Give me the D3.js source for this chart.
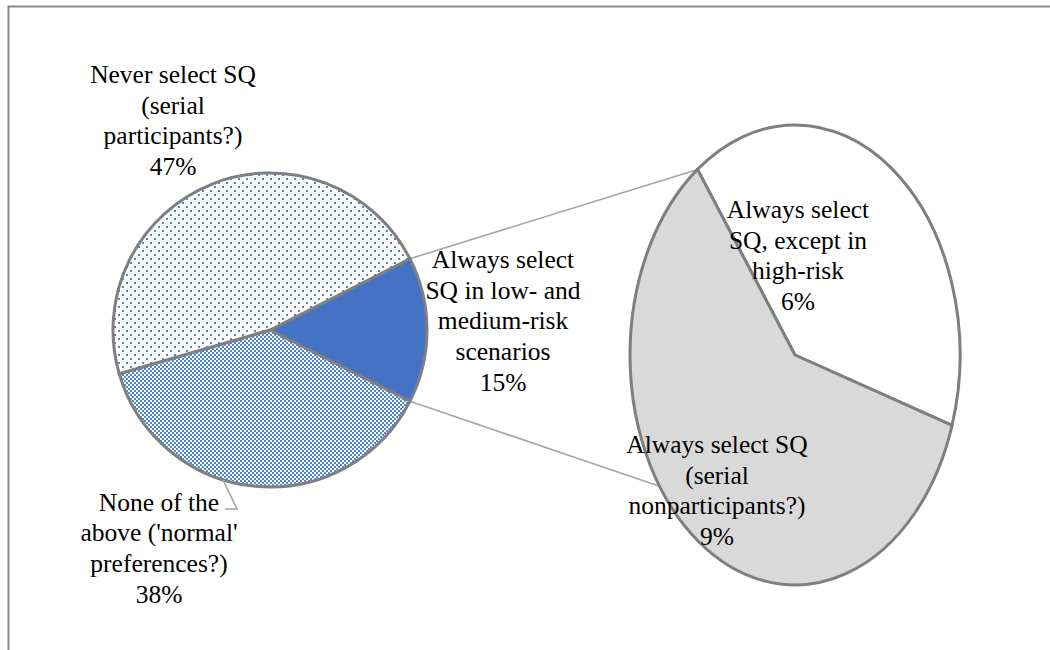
<!DOCTYPE html>
<html>
<head>
<meta charset="utf-8">
<script src="https://cdn.jsdelivr.net/npm/d3@7"></script>
<style>
  body { margin: 0; background: #fff; }
  svg { display: block; }
  text { font-family: "Liberation Serif", "Times New Roman", serif; fill: #000; }
</style>
</head>
<body>
<svg id="chart" width="1050" height="650"></svg>
<script>
// ---- data ----
const mainCategories = [
  "Always select SQ in low- and medium-risk scenarios",
  "None of the above ('normal' preferences?)",
  "Never select SQ (serial participants?)"
];
const mainValues = [15, 38, 47];
const mainLabelLines = [
  ["Always select", "SQ in low- and", "medium-risk", "scenarios"],
  ["None of the", "above ('normal'", "preferences?)"],
  ["Never select SQ", "(serial", "participants?)"]
];
const subCategories = [
  "Always select SQ, except in high-risk",
  "Always select SQ (serial nonparticipants?)"
];
const subValues = [6, 9];
const subLabelLines = [
  ["Always select", "SQ, except in", "high-risk"],
  ["Always select SQ", "(serial", "nonparticipants?)"]
];

// ---- layout ----
const W = 1050, H = 650;
const deg = Math.PI / 180;
const main = { cx: 270, cy: 330, r: 157 };
const sub = { cx: 795, cy: 355, rx: 165, ry: 230, start: -36.2 * deg, lowerLink: 235.2 * deg };
const fontSize = 25.5, lineGap = 30.7;
const mainLabelPos = [
  { x: 503, y: 268 },   // first baseline of each label
  { x: 159, y: 510.5 },
  { x: 173, y: 83 }
];
const subLabelPos = [
  { x: 798, y: 218 },
  { x: 717, y: 453 }
];
const outline = "#7f7f7f", linkColor = "#a5a5a5", patternBlue = "#4a8ad4";

const svg = d3.select("#chart");
const defs = svg.append("defs");

// dotted fill
const dots = defs.append("pattern").attr("id", "dots")
  .attr("patternUnits", "userSpaceOnUse").attr("width", 8).attr("height", 8);
dots.append("rect").attr("width", 8).attr("height", 8).attr("fill", "#fff");
dots.append("rect").attr("x", 0).attr("y", 0).attr("width", 2).attr("height", 2).attr("fill", patternBlue);
dots.append("rect").attr("x", 4).attr("y", 4).attr("width", 2).attr("height", 2).attr("fill", patternBlue);

// checkerboard fill
const checks = defs.append("pattern").attr("id", "checks")
  .attr("patternUnits", "userSpaceOnUse").attr("width", 4).attr("height", 4);
checks.append("rect").attr("width", 4).attr("height", 4).attr("fill", "#fff");
checks.append("rect").attr("x", 0).attr("y", 0).attr("width", 2).attr("height", 2).attr("fill", patternBlue);
checks.append("rect").attr("x", 2).attr("y", 2).attr("width", 2).attr("height", 2).attr("fill", patternBlue);

const mainFills = ["#4472c4", "url(#checks)", "url(#dots)"];
const subFills = ["#ffffff", "#d9d9d9"];

// chart area frame (left and top edges visible)
svg.append("path")
  .attr("d", `M8.5,${H} V6.5 H${W}`)
  .attr("fill", "none").attr("stroke", "#898989").attr("stroke-width", 2);

// ---- main pie: the first slice is centred on 3 o'clock ----
const total = d3.sum(mainValues);
const firstSpan = mainValues[0] / total * 2 * Math.PI;
const mainStart = Math.PI / 2 - firstSpan / 2;
const mainPie = d3.pie().sort(null)
  .startAngle(mainStart).endAngle(mainStart + 2 * Math.PI);
const mainArcs = mainPie(mainValues);
const mainArc = d3.arc().innerRadius(0).outerRadius(main.r);

// ---- secondary pie (breakdown of the first slice) ----
const subPie = d3.pie().sort(null)
  .startAngle(sub.start).endAngle(sub.start + 2 * Math.PI);
const subArcs = subPie(subValues);
const unitArc = d3.arc().innerRadius(0).outerRadius(1);

const onMain = a => [main.cx + main.r * Math.sin(a), main.cy - main.r * Math.cos(a)];
const onSub = a => [sub.cx + sub.rx * Math.sin(a), sub.cy - sub.ry * Math.cos(a)];

// series lines joining the split slice to the secondary pie
const links = [
  [onMain(mainArcs[0].startAngle), onSub(subArcs[0].startAngle)],
  [onMain(mainArcs[0].endAngle), onSub(sub.lowerLink)]
];
svg.append("g").selectAll("line").data(links).join("line")
  .attr("x1", d => d[0][0]).attr("y1", d => d[0][1])
  .attr("x2", d => d[1][0]).attr("y2", d => d[1][1])
  .attr("stroke", linkColor).attr("stroke-width", 1.6);

svg.append("g")
  .attr("transform", `translate(${main.cx},${main.cy})`)
  .selectAll("path").data(mainArcs).join("path")
  .attr("d", mainArc)
  .attr("fill", (d, i) => mainFills[i])
  .attr("stroke", outline).attr("stroke-width", 3).attr("stroke-linejoin", "round");

svg.append("g")
  .attr("transform", `translate(${sub.cx},${sub.cy}) scale(${sub.rx},${sub.ry})`)
  .selectAll("path").data(subArcs).join("path")
  .attr("d", unitArc)
  .attr("fill", (d, i) => subFills[i])
  .attr("stroke", outline).attr("stroke-width", 3)
  .attr("vector-effect", "non-scaling-stroke").attr("stroke-linejoin", "round");

// leader line for the lower-left label
const noneMid = (mainArcs[1].startAngle + mainArcs[1].endAngle) / 2;
const leaderEnd = onMain(noneMid + 12 * deg);
svg.append("polyline")
  .attr("points", [[225, 509], [237, 509], leaderEnd].map(p => p.join(",")).join(" "))
  .attr("fill", "none").attr("stroke", linkColor).attr("stroke-width", 1.6);

// ---- data labels ----
const pct = v => Math.round(v / total * 100) + "%";
function drawLabel(lines, pos) {
  const t = svg.append("text")
    .attr("text-anchor", "middle")
    .attr("font-size", fontSize);
  lines.forEach((s, i) => {
    t.append("tspan").attr("x", pos.x).attr("y", pos.y + i * lineGap).text(s);
  });
}
mainValues.forEach((v, i) => drawLabel([...mainLabelLines[i], pct(v)], mainLabelPos[i]));
subValues.forEach((v, i) => drawLabel([...subLabelLines[i], pct(v)], subLabelPos[i]));
</script>
</body>
</html>
